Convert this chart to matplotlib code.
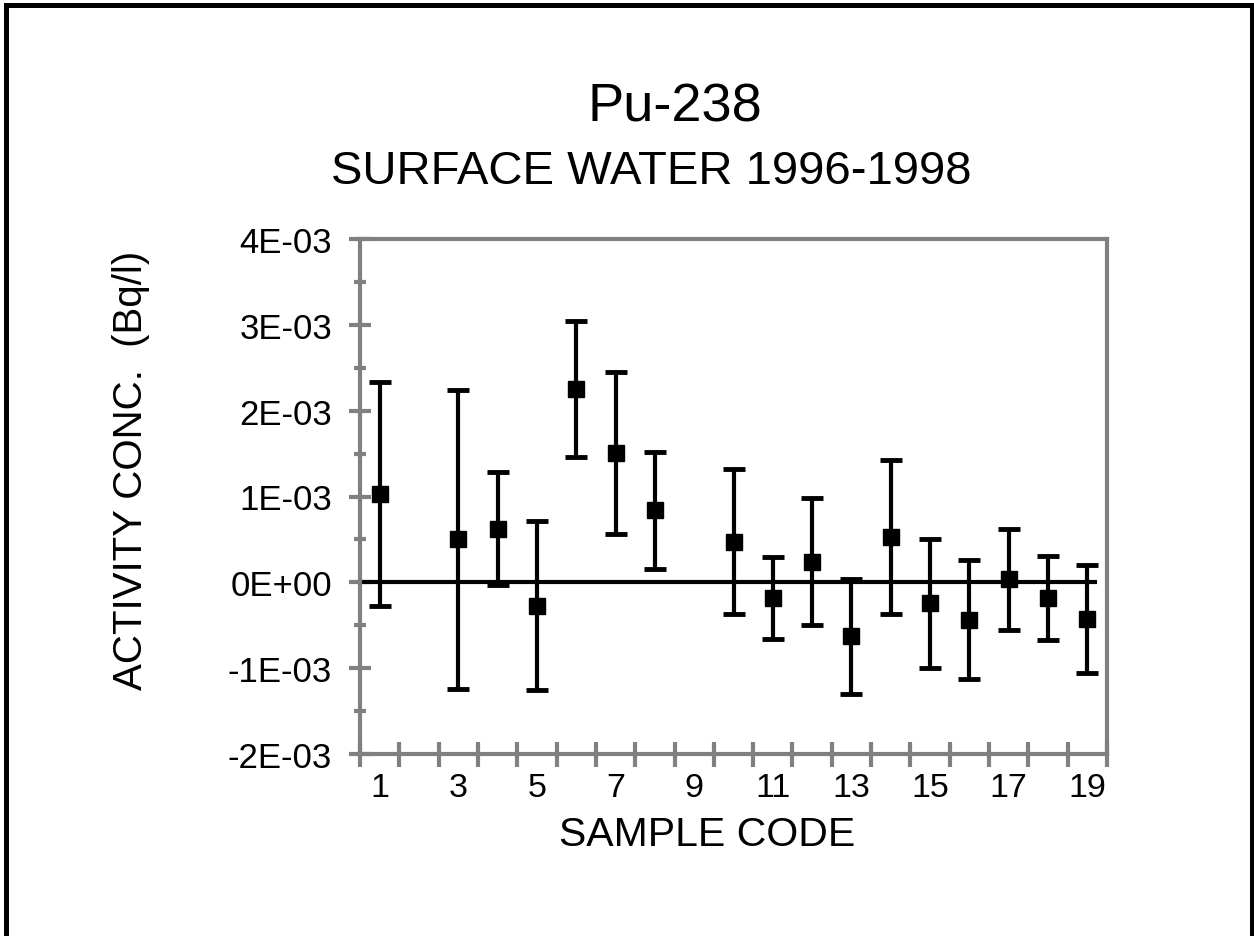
import matplotlib
matplotlib.use("Agg")
import matplotlib.pyplot as plt
from matplotlib.patches import Rectangle
from matplotlib.ticker import FixedLocator, NullFormatter, FuncFormatter

plt.rcParams['font.family'] = ['Liberation Sans', 'DejaVu Sans']

# Data (Bq/l); sample codes 2 and 9 have no value
sample_codes = [1, 3, 4, 5, 6, 7, 8, 10, 11, 12, 13, 14, 15, 16, 17, 18, 19]
activity = [1.03e-3, 0.50e-3, 0.625e-3, -0.27e-3, 2.25e-3, 1.505e-3, 0.84e-3,
            0.475e-3, -0.18e-3, 0.24e-3, -0.63e-3, 0.53e-3, -0.245e-3,
            -0.435e-3, 0.035e-3, -0.18e-3, -0.43e-3]
uncertainty = [1.30e-3, 1.74e-3, 0.66e-3, 0.98e-3, 0.79e-3, 0.94e-3, 0.68e-3,
               0.845e-3, 0.48e-3, 0.74e-3, 0.67e-3, 0.90e-3, 0.75e-3,
               0.69e-3, 0.59e-3, 0.49e-3, 0.63e-3]
n_codes = 19
x_labels = [str(i) for i in range(1, n_codes + 1, 2)]
y_ticks = [-2e-3, -1e-3, 0, 1e-3, 2e-3, 3e-3, 4e-3]
y_tick_labels = ['-2E-03', '-1E-03', '0E+00', '1E-03', '2E-03', '3E-03', '4E-03']

W, H = 1254, 937
fig = plt.figure(figsize=(W / 100, H / 100), dpi=100)
fig.patch.set_facecolor('white')

ax_l, ax_r, ax_t, ax_b = 360, 1107, 240, 755
ax = fig.add_axes([ax_l / W, 1 - ax_b / H, (ax_r - ax_l) / W, (ax_b - ax_t) / H])

gray = '#808080'
for s in ax.spines.values():
    s.set_color(gray)
    s.set_linewidth(3)

ax.set_xlim(0.5, n_codes + 0.5)
ax.set_ylim(-2e-3, 4e-3)

# zero reference line
ax.axhline(0, xmin=0, xmax=0.984, color='black', lw=3, zorder=2)

ax.errorbar(sample_codes, activity, yerr=uncertainty, fmt='s', color='black',
            ms=11, ecolor='black', elinewidth=3, capsize=8, capthick=3.5,
            zorder=3)

# x ticks between categories, labels on odd codes
ax.xaxis.set_major_locator(FixedLocator([i + 0.5 for i in range(0, n_codes + 1)]))
ax.xaxis.set_major_formatter(NullFormatter())
ax.xaxis.set_minor_locator(FixedLocator([int(v) for v in x_labels]))
ax.xaxis.set_minor_formatter(FuncFormatter(lambda v, p: str(int(round(v)))))
ax.tick_params(axis='x', which='major', direction='inout', length=18,
               width=3, color=gray)
ax.tick_params(axis='x', which='minor', length=0, pad=13, labelsize=24.5,
               labelcolor='black')

ax.set_yticks(y_ticks)
ax.set_yticklabels(y_tick_labels)
ax.yaxis.set_minor_locator(FixedLocator([-1.5e-3, -0.5e-3, 0.5e-3, 1.5e-3,
                                         2.5e-3, 3.5e-3]))
ax.tick_params(axis='y', which='major', direction='inout', length=16,
               width=3, color=gray, labelsize=25, pad=12)
ax.tick_params(axis='y', which='minor', direction='inout', length=9,
               width=3, color=gray)

fig.text(131 / W, 1 - 470 / H, 'ACTIVITY CONC.  (Bq/l)', rotation=90,
         ha='center', va='center', fontsize=29)
fig.text(707 / W, 1 - 835 / H, 'SAMPLE CODE', ha='center', va='center',
         fontsize=29.5)
fig.text(675 / W, 1 - 108 / H, 'Pu-238', ha='center', va='center',
         fontsize=39)
fig.text(651 / W, 1 - 172 / H, 'SURFACE WATER 1996-1998', ha='center',
         va='center', fontsize=34)

# chart-area border
fig.patches.append(Rectangle((6 / W, -0.1), (1252 - 6) / W, 1.1 - 6 / H,
                             transform=fig.transFigure, fill=False,
                             edgecolor='black', lw=3.6))

fig.savefig('out.png', dpi=100)
